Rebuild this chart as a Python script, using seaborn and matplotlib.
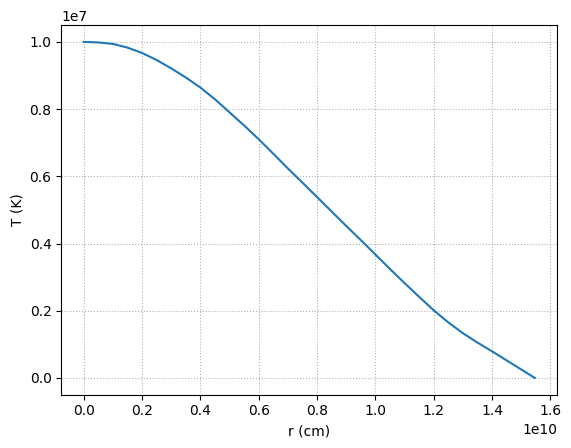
import matplotlib
matplotlib.use("Agg")
import matplotlib.pyplot as plt
import seaborn as sns
import pandas as pd

# radius in cm, temperature in K
r_cm = [0.0, 0.05e10, 0.1e10, 0.15e10, 0.2e10, 0.25e10, 0.3e10, 0.35e10, 0.4e10,
        0.45e10, 0.5e10, 0.55e10, 0.6e10, 0.65e10, 0.7e10, 0.75e10, 0.8e10,
        0.85e10, 0.9e10, 0.95e10, 1.0e10, 1.05e10, 1.1e10, 1.15e10, 1.2e10,
        1.25e10, 1.3e10, 1.35e10, 1.4e10, 1.45e10, 1.5e10, 1.546e10]
T_K = [1.000e7, 0.9985e7, 0.994e7, 0.983e7, 0.967e7, 0.946e7, 0.921e7, 0.894e7,
       0.864e7, 0.829e7, 0.790e7, 0.751e7, 0.710e7, 0.667e7, 0.623e7, 0.581e7,
       0.538e7, 0.495e7, 0.452e7, 0.410e7, 0.367e7, 0.324e7, 0.282e7, 0.241e7,
       0.201e7, 0.165e7, 0.133e7, 0.105e7, 0.079e7, 0.052e7, 0.025e7, 0.0]

df = pd.DataFrame({"r": r_cm, "T": T_K})

plt.rcParams.update(matplotlib.rcParamsDefault)
fig, ax = plt.subplots(figsize=(6.4, 4.8), dpi=100)
sns.lineplot(data=df, x="r", y="T", ax=ax, color="#1f77b4", linewidth=1.5)
ax.set_xlabel("r (cm)")
ax.set_ylabel("T (K)")
ax.grid(True, linestyle=":")
fig.savefig("out.png", bbox_inches="tight")
